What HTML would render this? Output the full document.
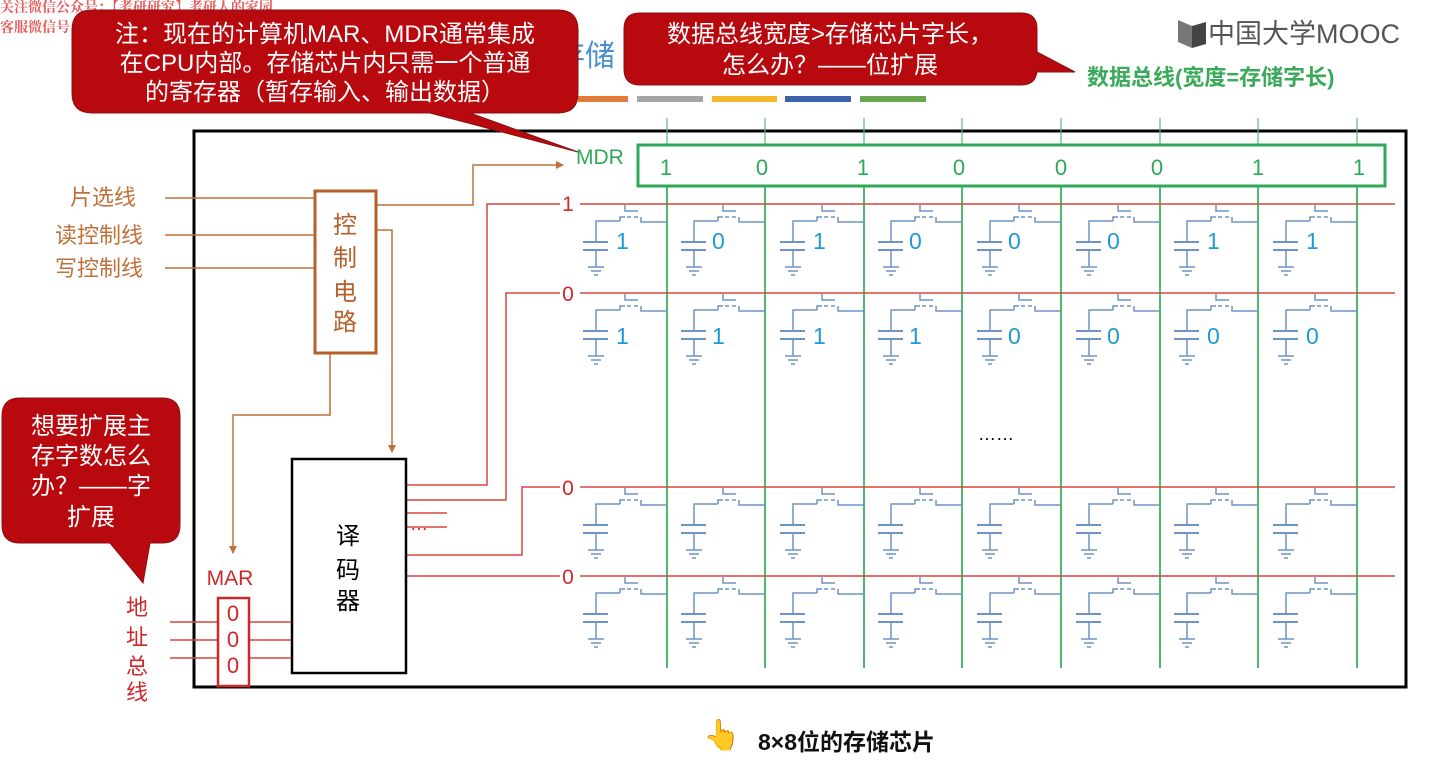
<!DOCTYPE html>
<html><head><meta charset="utf-8"><style>
html,body{margin:0;padding:0;background:#fff;width:1440px;height:774px;overflow:hidden}
svg{display:block;font-family:"Liberation Sans","Noto Sans CJK SC",sans-serif}
</style></head><body>
<svg width="1440" height="774" viewBox="0 0 1440 774" xmlns="http://www.w3.org/2000/svg">
<defs>
<g id="cell" fill="none" stroke="#6f93c4" stroke-width="1.5">
<path d="M-42 1V7H-29"/>
<path d="M-47 17V13H-42M-26 13V18H0"/>
<path d="M-40 13H-28" stroke-dasharray="4 3"/>
<path d="M-47 17H-71V38M-71 46V63"/>
<path d="M-84 38H-59M-84 46H-59" stroke-width="2"/>
<path d="M-79 63H-63M-76 67H-66M-73 71H-69"/>
</g>
<marker id="ar" markerWidth="8" markerHeight="8" refX="7" refY="4" orient="auto" markerUnits="userSpaceOnUse"><path d="M0 0L8 4L0 8z" fill="#c0703a"/></marker>
</defs>

<text x="0" y="12" font-size="14" font-weight="bold" fill="#e03030" opacity="0.8" font-family="Noto Serif CJK SC,serif">关注微信公众号：【考研研究】考研人的家园</text>
<text x="0" y="32" font-size="14" font-weight="bold" fill="#e03030" opacity="0.8" font-family="Noto Serif CJK SC,serif">客服微信号：kyyj2020</text>

<text x="555" y="66" font-size="30" fill="#4a8fd0">存储</text>
<rect x="578" y="96" width="50" height="6" fill="#e07b39"/>
<rect x="637" y="96" width="66" height="6" fill="#a5a5a5"/>
<rect x="712" y="96" width="65" height="6" fill="#f3b92a"/>
<rect x="785" y="96" width="66" height="6" fill="#3b64ad"/>
<rect x="860" y="96" width="66" height="6" fill="#6aa84f"/>

<path d="M1178 20L1192 26V48L1178 42Z" fill="#777"/><path d="M1192 26L1206 22V44L1192 48Z" fill="#444"/>
<text x="1208" y="43" font-size="27" fill="#555">中国大学MOOC</text>
<text x="1087" y="85" font-size="22" fill="#3aaa5a" font-weight="bold">数据总线(宽度=存储字长)</text>

<rect x="194" y="131" width="1212" height="556" fill="none" stroke="#000" stroke-width="3"/>

<g stroke="#5cb87a" stroke-width="1.2">
<path d="M667 118V145M765 118V145M864 118V145M962 118V145M1061 118V145M1160 118V145M1258 118V145M1357 118V145"/>
</g>
<g stroke="#4cbb6c" stroke-width="2">
<path d="M667 186V668M765 186V668M864 186V668M962 186V668M1061 186V668M1160 186V668M1258 186V668M1357 186V668"/>
</g>
<rect x="638" y="145" width="747" height="41" fill="#fff" stroke="#2fa85a" stroke-width="3"/>
<text x="576" y="164" font-size="21" fill="#2fa85a">MDR</text>
<g font-size="22" fill="#2fa85a" text-anchor="middle">
<text x="666" y="175">1</text><text x="762" y="175">0</text><text x="863" y="175">1</text><text x="959" y="175">0</text><text x="1061" y="175">0</text><text x="1157" y="175">0</text><text x="1258" y="175">1</text><text x="1359" y="175">1</text>
</g>

<g stroke="#d9463f" stroke-width="1.5" fill="none">
<path d="M580 204H1395M580 293H1395M580 487H1395M580 576H1395"/>
<path d="M406 485H487V204H560M406 500H506V293H560M406 513H447M406 527H447M406 555H522V487H560M406 576H560"/>
<path d="M170 622H217M170 640H217M170 658H217M249 622H292M249 640H292M249 658H292"/>
</g>
<g font-size="21" fill="#d0282a" text-anchor="middle">
<text x="568" y="211">1</text><text x="568" y="301">0</text><text x="568" y="495">0</text><text x="568" y="584">0</text>
</g>
<text x="410" y="530" font-size="18" fill="#d0282a">…</text>
<text x="978" y="440" font-size="18" fill="#000">……</text>

<g>
<use href="#cell" x="667" y="204"/><use href="#cell" x="765" y="204"/><use href="#cell" x="864" y="204"/><use href="#cell" x="962" y="204"/><use href="#cell" x="1061" y="204"/><use href="#cell" x="1160" y="204"/><use href="#cell" x="1258" y="204"/><use href="#cell" x="1357" y="204"/>
<use href="#cell" x="667" y="293"/><use href="#cell" x="765" y="293"/><use href="#cell" x="864" y="293"/><use href="#cell" x="962" y="293"/><use href="#cell" x="1061" y="293"/><use href="#cell" x="1160" y="293"/><use href="#cell" x="1258" y="293"/><use href="#cell" x="1357" y="293"/>
<use href="#cell" x="667" y="487"/><use href="#cell" x="765" y="487"/><use href="#cell" x="864" y="487"/><use href="#cell" x="962" y="487"/><use href="#cell" x="1061" y="487"/><use href="#cell" x="1160" y="487"/><use href="#cell" x="1258" y="487"/><use href="#cell" x="1357" y="487"/>
<use href="#cell" x="667" y="576"/><use href="#cell" x="765" y="576"/><use href="#cell" x="864" y="576"/><use href="#cell" x="962" y="576"/><use href="#cell" x="1061" y="576"/><use href="#cell" x="1160" y="576"/><use href="#cell" x="1258" y="576"/><use href="#cell" x="1357" y="576"/>
</g>
<g font-size="23" fill="#1e9ad6">
<text x="616" y="249">1</text><text x="712" y="249">0</text><text x="813" y="249">1</text><text x="909" y="249">0</text><text x="1008" y="249">0</text><text x="1107" y="249">0</text><text x="1207" y="249">1</text><text x="1306" y="249">1</text>
<text x="616" y="344">1</text><text x="712" y="344">1</text><text x="813" y="344">1</text><text x="909" y="344">1</text><text x="1008" y="344">0</text><text x="1107" y="344">0</text><text x="1207" y="344">0</text><text x="1306" y="344">0</text>
</g>

<g stroke="#c0703a" stroke-width="1.5" fill="none">
<path d="M165 198H315M165 235H315M165 268H315"/>
<path d="M376 205H473V165H563" marker-end="url(#ar)"/>
<path d="M376 230H392V452" marker-end="url(#ar)"/>
<path d="M330 353V415H233V553" marker-end="url(#ar)"/>
</g>
<rect x="315" y="191" width="61" height="162" fill="#fff" stroke="#b5602a" stroke-width="3"/>
<g font-size="24" fill="#b5602a" text-anchor="middle">
<text x="345" y="233">控</text><text x="345" y="266">制</text><text x="345" y="300">电</text><text x="345" y="330">路</text>
</g>
<g font-size="22" fill="#c0703a">
<text x="70" y="205">片选线</text><text x="55" y="243">读控制线</text><text x="55" y="276">写控制线</text>
</g>

<rect x="292" y="459" width="114" height="214" fill="#fff" stroke="#000" stroke-width="2.5"/>
<g font-size="24" fill="#000" text-anchor="middle">
<text x="348" y="544">译</text><text x="348" y="578">码</text><text x="348" y="609">器</text>
</g>

<text x="230" y="585" font-size="21" fill="#d0282a" text-anchor="middle">MAR</text>
<rect x="218" y="598" width="31" height="88" fill="#fff" stroke="#d0282a" stroke-width="2.5"/>
<g font-size="22" fill="#d0282a" text-anchor="middle">
<text x="233" y="621">0</text><text x="233" y="647">0</text><text x="233" y="673">0</text>
</g>
<g font-size="22" fill="#d0282a" text-anchor="middle">
<text x="137" y="615">地</text><text x="137" y="645">址</text><text x="137" y="674">总</text><text x="137" y="700">线</text>
</g>

<g fill="#b8090f" stroke="#8a1010" stroke-width="1">
<path d="M92 10H558Q578 10 578 30V93Q578 113 558 113H470L578 152L430 113H92Q72 113 72 93V30Q72 10 92 10Z"/>
<path d="M640 13H1021Q1037 13 1037 29V52L1075 72L1037 72V69Q1037 85 1021 85H640Q624 85 624 69V29Q624 13 640 13Z"/>
<path d="M20 398H162Q180 398 180 416V525Q180 543 162 543H150L143 583L110 543H20Q2 543 2 525V416Q2 398 20 398Z"/>
</g>
<g font-size="24" fill="#fff" text-anchor="middle">
<text x="325" y="42">注：现在的计算机MAR、MDR通常集成</text>
<text x="325" y="71">在CPU内部。存储芯片内只需一个普通</text>
<text x="325" y="100">的寄存器（暂存输入、输出数据）</text>
<text x="830" y="42">数据总线宽度&gt;存储芯片字长，</text>
<text x="830" y="73">怎么办？——位扩展</text>
<text x="91" y="434">想要扩展主</text>
<text x="91" y="464">存字数怎么</text>
<text x="91" y="494">办？——字</text>
<text x="91" y="525">扩展</text>
</g>

<text x="703" y="745" font-size="30">👆</text>
<text x="758" y="750" font-size="23" font-weight="bold" fill="#111">8×8位的存储芯片</text>
</svg>
</body></html>
